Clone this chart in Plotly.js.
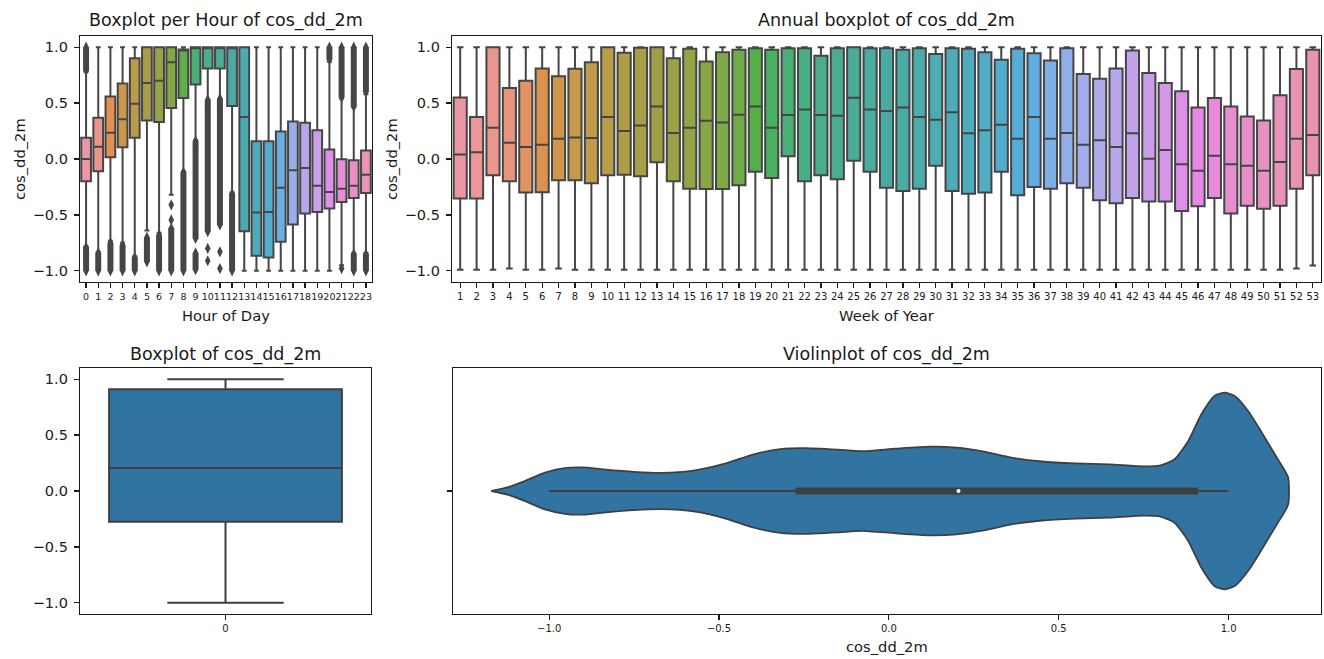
<!DOCTYPE html>
<html><head><meta charset="utf-8">
<script src="https://cdn.plot.ly/plotly-3.0.1.min.js"></script>
<style>html,body{margin:0;padding:0;background:#fff;} #chart{width:1324px;height:659px;}</style>
</head><body><div id="chart"></div>
<script>
// ---------------- DATA ----------------
const hours = [0,1,2,3,4,5,6,7,8,9,10,11,12,13,14,15,16,17,18,19,20,21,22,23];
const hourQ1  = [-0.20,-0.11,0.015,0.105,0.19,0.345,0.33,0.455,0.545,0.667,0.81,0.81,0.473,-0.646,-0.866,-0.881,-0.741,-0.586,-0.488,-0.473,-0.443,-0.384,-0.348,-0.304];
const hourMed = [0.0,0.11,0.235,0.355,0.495,0.68,0.70,0.865,0.98,1.0,1.0,1.0,1.0,0.375,-0.479,-0.473,-0.256,-0.10,-0.08,-0.24,-0.295,-0.265,-0.24,-0.14];
const hourQ3  = [0.19,0.37,0.56,0.675,0.90,1.0,1.0,1.0,0.98,1.0,1.0,1.0,1.0,1.0,0.158,0.158,0.247,0.336,0.324,0.256,0.086,-0.003,-0.012,0.077];
const hourLo  = [-0.78,-0.83,-0.73,-0.75,-0.87,-0.64,-0.66,-0.32,-0.11,0.17,0.52,0.53,-0.30,-1.0,-1.0,-1.0,-1.0,-1.0,-1.0,-1.0,-1.0,-0.95,-0.84,-0.84];
const hourHi  = [0.78,1.0,1.0,1.0,1.0,1.0,1.0,1.0,1.0,1.0,1.0,1.0,1.0,1.0,1.0,1.0,1.0,1.0,1.0,1.0,0.87,0.54,0.46,0.58];
// dense flier bands (hour, from, to) and isolated fliers
const flierBandHour = [0,0,1,2,3,4,5,6,7,8,9,9,10,11,12,20,21,22,22,23,23];
const flierBandLo   = [0.79,-1.0,-1.0,-1.0,-1.0,-1.0,-0.92,-1.0,-1.0,-1.0,-0.71,-0.99,-0.65,-0.59,-1.0,0.89,0.55,0.47,-1.0,0.60,-1.0];
const flierBandHi   = [1.0,-0.79,-0.84,-0.75,-0.77,-0.88,-0.70,-0.68,-0.62,-0.12,0.16,-0.84,0.53,0.54,-0.31,1.0,1.0,1.0,-0.85,1.0,-0.85];
const flierDotHour  = [7,7,10,10,11,11,21];
const flierDotVal   = [-0.41,-0.545,-0.80,-0.91,-0.83,-0.98,-0.98];

const weeks = [1,2,3,4,5,6,7,8,9,10,11,12,13,14,15,16,17,18,19,20,21,22,23,24,25,26,27,28,29,30,31,32,33,34,35,36,37,38,39,40,41,42,43,44,45,46,47,48,49,50,51,52,53];
const weekQ1  = [-0.354,-0.354,-0.146,-0.20,-0.30,-0.298,-0.19,-0.19,-0.217,-0.146,-0.14,-0.155,-0.03,-0.20,-0.265,-0.268,-0.268,-0.235,-0.113,-0.17,0.024,-0.20,-0.146,-0.18,-0.015,-0.113,-0.256,-0.286,-0.265,-0.06,-0.286,-0.31,-0.30,-0.113,-0.324,-0.25,-0.265,-0.217,-0.256,-0.369,-0.396,-0.348,-0.381,-0.381,-0.464,-0.423,-0.348,-0.488,-0.417,-0.446,-0.417,-0.265,-0.146];
const weekMed = [0.04,0.06,0.28,0.146,0.107,0.128,0.18,0.193,0.188,0.375,0.25,0.30,0.47,0.232,0.28,0.342,0.327,0.396,0.47,0.28,0.393,0.443,0.393,0.387,0.548,0.443,0.43,0.46,0.375,0.351,0.417,0.23,0.256,0.307,0.18,0.375,0.18,0.232,0.128,0.167,0.107,0.23,0.003,0.08,-0.048,-0.104,0.03,-0.048,-0.06,-0.104,-0.027,0.18,0.214];
const weekQ3  = [0.55,0.375,1.0,0.634,0.70,0.81,0.74,0.807,0.866,1.0,0.95,0.994,1.0,0.90,0.985,0.872,0.955,0.976,0.99,0.976,0.99,0.99,0.923,0.99,1.0,0.99,0.99,0.976,0.99,0.94,0.99,0.985,0.955,0.887,0.985,0.946,0.88,0.99,0.76,0.717,0.81,0.97,0.768,0.68,0.607,0.46,0.545,0.47,0.381,0.345,0.57,0.804,0.976];
const weekLo  = [-0.99,-0.99,-0.99,-0.98,-0.99,-0.99,-0.98,-0.99,-0.99,-0.99,-0.99,-0.99,-0.99,-0.99,-0.99,-0.99,-0.99,-0.99,-0.99,-0.99,-0.99,-0.99,-0.99,-0.99,-0.99,-0.99,-0.99,-0.99,-0.99,-0.99,-0.99,-0.99,-0.99,-0.99,-0.99,-0.99,-0.99,-0.99,-0.99,-0.99,-0.99,-0.99,-0.99,-0.99,-0.99,-0.99,-0.99,-0.99,-0.99,-0.99,-0.99,-0.98,-0.952];
const weekHi  = weeks.map(() => 1.0);

// overall box
const allQ1 = -0.275, allMed = 0.205, allQ3 = 0.91, allLo = -1.0, allHi = 1.0;

// violin outline: value and relative half-width (0..1)
const violinX = [-1.17,-1.12,-1.08,-1.01,-0.95,-0.90,-0.84,-0.75,-0.67,-0.57,-0.48,-0.40,-0.32,-0.25,-0.15,-0.08,0.02,0.12,0.20,0.28,0.36,0.45,0.55,0.65,0.75,0.80,0.84,0.88,0.92,0.96,0.99,1.02,1.06,1.10,1.14,1.175];
const violinW = [0.0,0.04,0.09,0.19,0.235,0.24,0.22,0.195,0.185,0.21,0.28,0.37,0.425,0.435,0.42,0.405,0.43,0.45,0.44,0.40,0.34,0.30,0.28,0.27,0.25,0.26,0.32,0.50,0.78,0.97,1.0,0.96,0.80,0.58,0.35,0.14];

// ---------------- COLOURS (seaborn husl, desaturated) ----------------
const MM = [[3.2406,-1.5372,-0.4986],[-0.9689,1.8758,0.0415],[0.0557,-0.2040,1.0570]];
function maxChroma(L,H){
  const hr=H*Math.PI/180, sH=Math.sin(hr), cH=Math.cos(hr);
  const sub1=Math.pow(L+16,3)/1560896, sub2= sub1>0.008856?sub1:L/903.3;
  let res=Infinity;
  for(const [m1,m2,m3] of MM){
    const top=(0.99915*m1+1.05122*m2+1.14460*m3)*sub2;
    const rb=0.86330*m3-0.17266*m2, lb=0.12949*m3-0.38848*m1;
    const bottom=(rb*sH+lb*cH)*sub2;
    for(const t of [0,1]){const C=L*(top-1.05122*t)/(bottom+0.17266*sH*t); if(C>0&&C<res)res=C;}
  }
  return res;
}
function huslToRgb(H,S,L){
  const C=maxChroma(L,H)/100*S, hr=H*Math.PI/180;
  const U=Math.cos(hr)*C, V=Math.sin(hr)*C;
  const t=(L+16)/116, t3=t*t*t;
  const Y= t3>0.008856?t3:(116*t-16)/903.3;
  const vU=U/(13*L)+0.19784, vV=V/(13*L)+0.46834;
  const X=-(9*Y*vU)/((vU-4)*vV-vU*vV);
  const Z=(9*Y-15*vV*Y-vV*X)/(3*vV);
  return MM.map(r=>{let c=r[0]*X+r[1]*Y+r[2]*Z; c=c<=0.0031308?12.92*c:1.055*Math.pow(c,1/2.4)-0.055; return Math.min(1,Math.max(0,c));});
}
function rgbToHls(r,g,b){const mx=Math.max(r,g,b),mn=Math.min(r,g,b),l=(mx+mn)/2;if(mx===mn)return[0,l,0];
  const s=l<=0.5?(mx-mn)/(mx+mn):(mx-mn)/(2-mx-mn);const rc=(mx-r)/(mx-mn),gc=(mx-g)/(mx-mn),bc=(mx-b)/(mx-mn);
  let h; if(r===mx)h=bc-gc; else if(g===mx)h=2+rc-bc; else h=4+gc-rc; h=((h/6)%1+1)%1; return [h,l,s];}
function _v(m1,m2,h){h=((h%1)+1)%1;if(h<1/6)return m1+(m2-m1)*h*6;if(h<0.5)return m2;if(h<2/3)return m1+(m2-m1)*(2/3-h)*6;return m1;}
function hlsToRgb(h,l,s){if(s===0)return[l,l,l];const m2=l<=0.5?l*(1+s):l+s-l*s,m1=2*l-m2;return[_v(m1,m2,h+1/3),_v(m1,m2,h),_v(m1,m2,h-1/3)];}
function desat(c,p){const [h,l,s]=rgbToHls(...c);return hlsToRgb(h,l,s*p);}
function hex(c){return '#'+c.map(v=>Math.round(v*255).toString(16).padStart(2,'0')).join('');}
function huslPalette(n){const out=[];for(let i=0;i<n;i++){const h=((i/n+0.01)%1)*359;out.push(desat(huslToRgb(h,0.9*99,0.7*99),0.75));}return out;}
function grayFor(cols){const lum=Math.min(...cols.map(c=>rgbToHls(...c)[1]))*0.6;return hex([lum,lum,lum]);}

const hourCols = huslPalette(hours.length), weekCols = huslPalette(weeks.length);
const blue = desat([0x1f/255,0x77/255,0xb4/255],0.75);
const hourGray = grayFor(hourCols), weekGray = grayFor(weekCols), blueGray = grayFor([blue]);

// ---------------- TRACES ----------------
const traces = [];
function addBoxes(n, q1, med, q3, lo, hi, cols, gray, ax){
  for(let i=0;i<n;i++){
    traces.push({type:'box', x:[i], q1:[q1[i]], median:[med[i]], q3:[q3[i]], lowerfence:[lo[i]], upperfence:[hi[i]],
      width:0.8, whiskerwidth:0.5, fillcolor:hex(cols[i]), line:{color:gray,width:2}, boxpoints:false,
      xaxis:'x'+ax, yaxis:'y'+ax, showlegend:false, hoverinfo:'skip'});
  }
}
addBoxes(hours.length, hourQ1, hourMed, hourQ3, hourLo, hourHi, hourCols, hourGray, '');
// flier bands
{
  const fx=[], fy=[];
  flierBandHour.forEach((h,i)=>{fx.push(hours.indexOf(h),hours.indexOf(h),null);fy.push(flierBandLo[i],flierBandHi[i],null);});
  traces.push({type:'scatter',mode:'lines+markers',x:fx,y:fy,line:{color:hourGray,width:6},
    marker:{symbol:'diamond-tall',size:8,color:hourGray},xaxis:'x',yaxis:'y',showlegend:false,hoverinfo:'skip'});
  traces.push({type:'scatter',mode:'markers',x:flierDotHour.map(h=>hours.indexOf(h)),y:flierDotVal,
    marker:{symbol:'diamond-tall',size:8,color:hourGray},xaxis:'x',yaxis:'y',showlegend:false,hoverinfo:'skip'});
}
addBoxes(weeks.length, weekQ1, weekMed, weekQ3, weekLo, weekHi, weekCols, weekGray, '2');
addBoxes(1, [allQ1], [allMed], [allQ3], [allLo], [allHi], [blue], blueGray, '3');

// violin
{
  const half = 0.4;
  const vx = violinX.concat(violinX.slice().reverse());
  const vy = violinW.map(w=>w*half).concat(violinW.slice().reverse().map(w=>-w*half));
  vx.push(vx[0]); vy.push(vy[0]);
  traces.push({type:'scatter',mode:'lines',x:vx,y:vy,fill:'toself',fillcolor:hex(blue),
    line:{color:blueGray,width:1.8,shape:'spline',smoothing:0.6},xaxis:'x4',yaxis:'y4',showlegend:false,hoverinfo:'skip'});
  traces.push({type:'scatter',mode:'lines',x:[allLo,allHi],y:[0,0],line:{color:blueGray,width:1.8},xaxis:'x4',yaxis:'y4',showlegend:false,hoverinfo:'skip'});
  traces.push({type:'scatter',mode:'lines',x:[allQ1,allQ3],y:[0,0],line:{color:blueGray,width:7},xaxis:'x4',yaxis:'y4',showlegend:false,hoverinfo:'skip'});
  traces.push({type:'scatter',mode:'markers',x:[allMed],y:[0],marker:{color:'#ffffff',size:4},xaxis:'x4',yaxis:'y4',showlegend:false,hoverinfo:'skip'});
}

// ---------------- LAYOUT ----------------
const W=1324,H=659;
const px=(a,b)=>[a/W,b/W], py=(top,bot)=>[1-bot/H,1-top/H];
const FONT='DejaVu Sans', TXT='#1a1a1a', LINE='#1a1a1a';
const base = {showline:true,mirror:true,linecolor:LINE,linewidth:1.2,ticks:'outside',ticklen:5,tickwidth:1.2,tickcolor:LINE,
  showgrid:false,zeroline:false,fixedrange:true,tickangle:0,tickfont:{family:FONT,size:14.5,color:TXT}};
const yBox = Object.assign({},base,{range:[-1.1,1.1],tickmode:'array',tickvals:[-1,-0.5,0,0.5,1],tickformat:'.1f',ticklabelstandoff:3});
const smallX = {family:FONT,size:10,color:TXT};

const layout = {
  width:W,height:H,margin:{l:0,r:0,t:0,b:0},paper_bgcolor:'#fff',plot_bgcolor:'#fff',showlegend:false,
  font:{family:FONT,color:TXT},
  xaxis: Object.assign({},base,{domain:px(80,372),range:[-0.5,hours.length-0.5],tickmode:'array',tickvals:hours.map((h,i)=>i),ticktext:hours.map(String),tickfont:{family:FONT,size:9.5,color:TXT},anchor:'y'}),
  yaxis: Object.assign({},yBox,{domain:py(36,282),anchor:'x'}),
  xaxis2: Object.assign({},base,{domain:px(452,1321),range:[-0.5,weeks.length-0.5],tickmode:'array',tickvals:weeks.map((w,i)=>i),ticktext:weeks.map(String),tickfont:smallX,anchor:'y2'}),
  yaxis2: Object.assign({},yBox,{domain:py(36,282),anchor:'x2'}),
  xaxis3: Object.assign({},base,{domain:px(80,371),range:[-0.5,0.5],tickmode:'array',tickvals:[0],ticktext:['0'],tickfont:smallX,anchor:'y3'}),
  yaxis3: Object.assign({},yBox,{domain:py(368,614),anchor:'x3'}),
  xaxis4: Object.assign({},base,{domain:px(453,1321),range:[-1.283,1.272],tickmode:'array',tickvals:[-1,-0.5,0,0.5,1],tickformat:'.1f',tickfont:smallX,anchor:'y4'}),
  yaxis4: Object.assign({},base,{domain:py(368,614),range:[-0.5,0.5],tickmode:'array',tickvals:[0],ticktext:[''],anchor:'x4'}),
  annotations: []
};
function ann(text,x,y,size,angle){layout.annotations.push({text,x:x/W,y:1-y/H,xref:'paper',yref:'paper',showarrow:false,
  xanchor:'center',yanchor:'middle',textangle:angle||0,font:{family:FONT,size,color:TXT}});}
ann('Boxplot per Hour of cos_dd_2m',226,21,17.5);
ann('Annual boxplot of cos_dd_2m',886.5,21,17.5);
ann('Boxplot of cos_dd_2m',225.5,354,17.5);
ann('Violinplot of cos_dd_2m',887,354,17.5);
ann('Hour of Day',226,315,14.7);
ann('Week of Year',886.5,315,14.7);
ann('cos_dd_2m',887,646,14.7);
ann('cos_dd_2m',20,159,14.7,-90);
ann('cos_dd_2m',392,159,14.7,-90);

Plotly.newPlot('chart',traces,layout,{staticPlot:true,displayModeBar:false});
</script></body></html>
